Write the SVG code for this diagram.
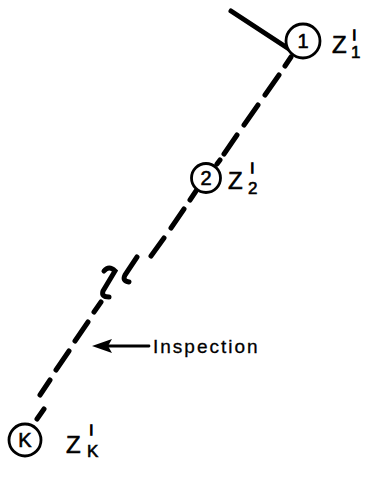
<svg xmlns="http://www.w3.org/2000/svg" width="385" height="480" viewBox="0 0 385 480">
<style>
.n{fill:#fff;stroke:#000;stroke-width:2.8}
.t{font-family:"Liberation Sans",Arial,sans-serif;fill:#000;stroke:#000;stroke-width:0.6}
.c{font-size:20px;text-anchor:middle}
.z{font-size:24px}
.p{font-size:10px;stroke-width:1.6}
.s{font-size:17px}
.ln{fill:none;stroke:#000;stroke-width:5;stroke-linecap:round}
</style>
<rect width="385" height="480" fill="#fff"/>
<g id="connectors">
<line class="ln" x1="231" y1="11" x2="289" y2="49"/>
<path class="ln" d="M291,57 L285,66 M279,75 L265,95 M258,105 L244,125 M237,135 L224,154 M220,160 L217,164"/>
<path class="ln" d="M196,191 L190,200 M184,209 L171,228 M164,238 L151,256"/>
<path class="ln" d="M137,257 L125,275 Q122,281 129,282 M104,271 Q109,265 115,271 L103,291 Q101,297 109,297"/>
<path class="ln" d="M101,302 L94,312 M88,322 L75,341 M69,351 L56,370 M50,380 L40,395 M44,409 L37,419"/>
<path class="ln" d="M149,346 L106,346" style="stroke-width:2.8"/>
<path d="M92,346 L112,339 L108,346 L112,353 Z" fill="#000"/>
</g>
<g id="node1"><circle class="n" cx="303" cy="41" r="17"/><text class="t c" x="303" y="48">1</text></g>
<g id="label1"><text class="t z" x="332" y="53">Z</text><text class="t p" x="353" y="38">|</text><text class="t s" x="351" y="58">1</text></g>
<g id="node2"><circle class="n" cx="206" cy="178" r="14.5"/><text class="t c" x="206" y="185">2</text></g>
<g id="label2"><text class="t z" x="228" y="189">Z</text><text class="t p" x="251" y="171">|</text><text class="t s" x="248" y="194">2</text></g>
<g id="nodeK"><circle class="n" cx="25" cy="440" r="16"/><text class="t c" x="25" y="447">K</text></g>
<g id="labelK"><text class="t z" x="66" y="453">Z</text><text class="t p" x="90" y="433">|</text><text class="t s" x="87" y="457">K</text></g>
<g id="inspection"><text class="t" x="153" y="353" style="font-size:19px;letter-spacing:2px;stroke-width:0.3">Inspection</text></g>
</svg>
